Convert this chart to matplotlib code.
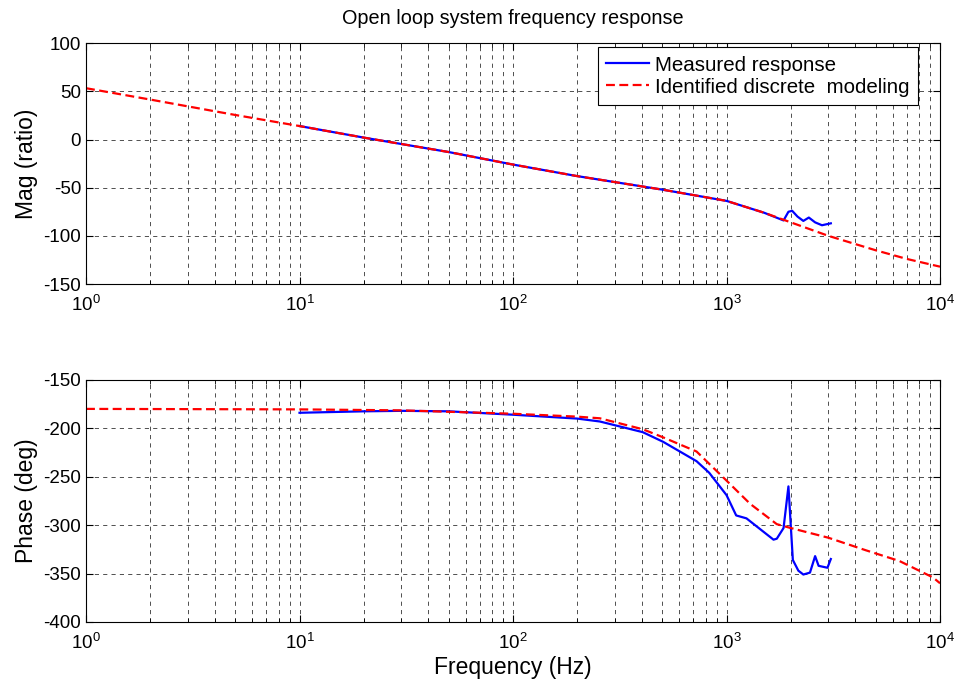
import matplotlib.pyplot as plt
import numpy as np
from matplotlib.ticker import LogLocator, NullFormatter

plt.rcParams['font.family'] = ['Liberation Sans', 'DejaVu Sans']
plt.rcParams['axes.unicode_minus'] = False
plt.rcParams['mathtext.fontset'] = 'custom'
plt.rcParams['mathtext.rm'] = 'Liberation Sans'

# Identified model, magnitude
f_mod_mag = [1, 2, 5, 10, 20, 50, 100, 200, 500, 1000, 1500, 2000, 3000, 5000, 7000, 10000]
mag_mod = [53.3, 41.5, 25.5, 14, 2, -13, -26, -38, -52, -63.7, -76, -86, -100, -115, -124, -132]

# Measured magnitude
f_meas_mag = [10, 20, 50, 100, 200, 500, 1000, 1500, 1850, 1950, 2030, 2150, 2290, 2430, 2600, 2800, 3080]
mag_meas = [14, 2, -13, -26, -38, -52, -63.7, -76, -84, -75, -74, -80, -84.5, -81, -86, -89, -87]

# Identified model, phase
f_mod_ph = [1, 10, 30, 100, 200, 255, 405, 500, 724, 1000, 1290, 1720, 2000, 3000, 4500, 6450, 9270, 10000]
ph_mod = [-180, -180.5, -181.5, -185, -188, -189.7, -201, -209, -224, -254, -278, -299, -303, -313, -326, -337, -354, -360]

# Measured phase
f_meas_ph = [10, 20, 30, 50, 100, 200, 255, 405, 505, 724, 830, 1000, 1110, 1240, 1660, 1720, 1850,
             1950, 2045, 2170, 2290, 2460, 2600, 2700, 2970, 3080]
ph_meas = [-184, -182.5, -182, -182.5, -186, -190, -193, -204, -214, -234, -246, -269, -290, -293, -315, -314, -303,
           -260, -336, -347, -351, -349, -332, -342, -344, -335]

fig = plt.figure(figsize=(9.59, 6.86), dpi=100)
ax1 = fig.add_axes([0.0897, 0.586, 0.8905, 0.351])
ax2 = fig.add_axes([0.0897, 0.0933, 0.8905, 0.353])

grid_kw = dict(color='black', linestyle=(0, (5, 5)), linewidth=0.6, alpha=0.8)

for ax in (ax1, ax2):
    ax.set_xscale('log')
    ax.set_xlim(1, 1e4)
    ax.xaxis.set_major_locator(LogLocator(base=10, numticks=10))
    ax.xaxis.set_minor_locator(LogLocator(base=10, subs=np.arange(2, 10), numticks=10))
    ax.xaxis.set_minor_formatter(NullFormatter())
    ax.grid(True, which='major', **grid_kw)
    ax.grid(True, which='minor', axis='x', **grid_kw)
    ax.tick_params(which='both', direction='in', top=True, right=True, labelsize=13.5)
    ax.tick_params(which='major', length=5)
    ax.tick_params(which='minor', length=3)
    ax.tick_params(axis='x', which='major', pad=8)
    for s in ax.spines.values():
        s.set_linewidth(0.8)

ax1.plot(f_meas_mag, mag_meas, color='#0000ff', lw=1.6, label='Measured response')
ax1.plot(f_mod_mag, mag_mod, color='#ff0000', lw=1.6, linestyle=(0, (4, 2)), label='Identified discrete  modeling')
ax1.set_ylim(-150, 100)
ax1.set_yticks(np.arange(-150, 101, 50))
ax1.set_ylabel('Mag (ratio)', fontsize=16.5)
ax1.set_title('Open loop system frequency response', fontsize=14.3, pad=14)
leg = ax1.legend(loc='upper right', bbox_to_anchor=(0.974, 0.983), fontsize=14.8, fancybox=False,
                 framealpha=1, edgecolor='black', borderpad=0.4, labelspacing=0.15, handlelength=2.1,
                 handletextpad=0.3, borderaxespad=0)
leg.get_frame().set_linewidth(0.8)

ax2.plot(f_meas_ph, ph_meas, color='#0000ff', lw=1.6)
ax2.plot(f_mod_ph, ph_mod, color='#ff0000', lw=1.6, linestyle=(0, (4, 2)))
ax2.set_ylim(-400, -150)
ax2.set_yticks(np.arange(-400, -149, 50))
ax2.set_ylabel('Phase (deg)', fontsize=16.5)
ax2.set_xlabel('Frequency (Hz)', fontsize=16.5, labelpad=2)

fig.savefig('out.png', dpi=100)
